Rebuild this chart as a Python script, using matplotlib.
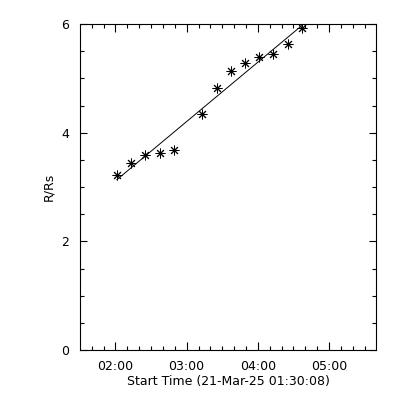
import numpy as np
import matplotlib
matplotlib.use("Agg")
import matplotlib.pyplot as plt
from matplotlib.ticker import FuncFormatter, MultipleLocator

# observation times (hours of day) and heights in solar radii
times = [2.02, 2.22, 2.42, 2.62, 2.82, 3.22, 3.42, 3.62, 3.82, 4.02, 4.22, 4.42, 4.62]
heights = [3.22, 3.45, 3.59, 3.62, 3.69, 4.34, 4.82, 5.13, 5.28, 5.39, 5.44, 5.64, 5.92]
x_range = [1.502, 5.66]
y_range = [0, 6]
hour_ticks = [2, 3, 4, 5]

plt.rcParams['font.family'] = 'DejaVu Sans'
fig = plt.figure(figsize=(4, 4), dpi=100)
ax = fig.add_axes([0.2, 0.125, 0.74, 0.815])

# linear fit through the points
coef = np.polyfit(times, heights, 1)
t_fit = np.array([times[0], times[-1]])
ax.plot(t_fit, np.polyval(coef, t_fit), color='black', lw=0.7)
ax.plot(times, heights, linestyle='none', marker=(8, 2, 0), markersize=7,
        markeredgecolor='black', markeredgewidth=0.7)

ax.set_xlim(*x_range)
ax.set_ylim(*y_range)
ax.set_xticks(hour_ticks)
ax.xaxis.set_minor_locator(MultipleLocator(1 / 6))
ax.yaxis.set_major_locator(MultipleLocator(2))
ax.yaxis.set_minor_locator(MultipleLocator(0.5))
ax.xaxis.set_major_formatter(FuncFormatter(lambda v, p: f"{int(v):02d}:{int(round((v % 1) * 60)):02d}"))
ax.yaxis.set_major_formatter(FuncFormatter(lambda v, p: f"{int(v)}"))

ax.tick_params(which='both', direction='in', top=True, right=True, width=0.8,
               labelsize=9, colors='black')
ax.tick_params(axis='x', which='major', length=6, pad=7)
ax.tick_params(axis='x', which='minor', length=3)
ax.tick_params(axis='y', which='major', length=5, pad=8)
ax.tick_params(axis='y', which='minor', length=3)
for s in ax.spines.values():
    s.set_linewidth(0.8)

ax.set_xlabel("Start Time (21-Mar-25 01:30:08)", fontsize=9, labelpad=2)
ax.set_ylabel("R/Rs", fontsize=9, labelpad=4)

fig.savefig("out.png", dpi=100)
